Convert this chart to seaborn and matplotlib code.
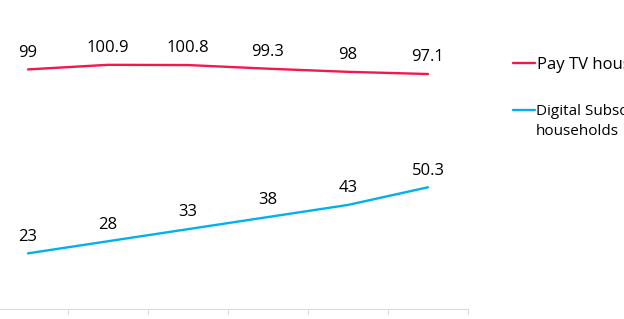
import matplotlib
matplotlib.use("Agg")
import matplotlib.pyplot as plt
import seaborn as sns
import pandas as pd
from matplotlib.lines import Line2D

sns.set_theme(style="white")
plt.rcParams['font.family'] = ['Open Sans', 'DejaVu Sans']

categories = ["2013", "2014", "2015", "2016", "2017", "2018"]
pay_tv = [99, 100.9, 100.8, 99.3, 98, 97.1]
digital = [23, 28, 33, 38, 43, 50.3]
series_names = ["Pay TV households", "Digital Subscription households"]
colors = ["#F2184C", "#00B0F0"]

df = pd.DataFrame({
    "x": list(range(len(categories))) * 2,
    "value": pay_tv + digital,
    "series": [series_names[0]] * len(categories) + [series_names[1]] * len(categories),
})

fig = plt.figure(figsize=(6.24, 3.19), dpi=100)
W, H = 624, 319
ax = fig.add_axes([-12 / W, (H - 309) / H, 480 / W, 120 * 2.42 / H])

sns.lineplot(data=df, x="x", y="value", hue="series", palette=colors,
             linewidth=1.7, ax=ax, legend=False, estimator=None, sort=False)

for vals in (pay_tv, digital):
    for i, v in enumerate(vals):
        ax.annotate(f"{v:g}", (i, v), xytext=(0, 12), textcoords="offset points",
                    ha="center", va="center", fontsize=12, color="#000000")

ax.set_xlim(-0.5, len(categories) - 0.5)
ax.set_ylim(0, 120)
ax.set_xticks([i + 0.5 for i in range(len(categories))])
ax.set_xticklabels([])
ax.set_yticks([])
ax.tick_params(axis="x", length=3.6, width=0.75, color="#D9D9D9", direction="out", bottom=True)
for s in ("top", "right", "left"):
    ax.spines[s].set_visible(False)
ax.spines["bottom"].set_color("#D9D9D9")
ax.spines["bottom"].set_linewidth(0.75)
ax.set_xlabel("")
ax.set_ylabel("")

h1 = Line2D([], [], color=colors[0], lw=1.7)
h2 = Line2D([], [], color=colors[1], lw=1.7)
h3 = Line2D([], [], color="none", lw=0)

leg1 = fig.legend([h1], ["Pay TV households"], loc="center left",
                  bbox_to_anchor=(513 / W, 1 - 65 / H), bbox_transform=fig.transFigure,
                  frameon=False, borderpad=0, borderaxespad=0, handlelength=1.32,
                  handletextpad=0.12, prop={"size": 12})
leg2 = fig.legend([h2, h3], ["Digital Subscription", "households"], loc="upper left",
                  bbox_to_anchor=(513 / W, 1 - 104 / H), bbox_transform=fig.transFigure,
                  frameon=False, borderpad=0, borderaxespad=0, handlelength=1.44,
                  handletextpad=0.05, labelspacing=0.35, prop={"size": 11})
for t in leg1.get_texts() + leg2.get_texts():
    t.set_color("#000000")

fig.savefig("out.png", dpi=100)
